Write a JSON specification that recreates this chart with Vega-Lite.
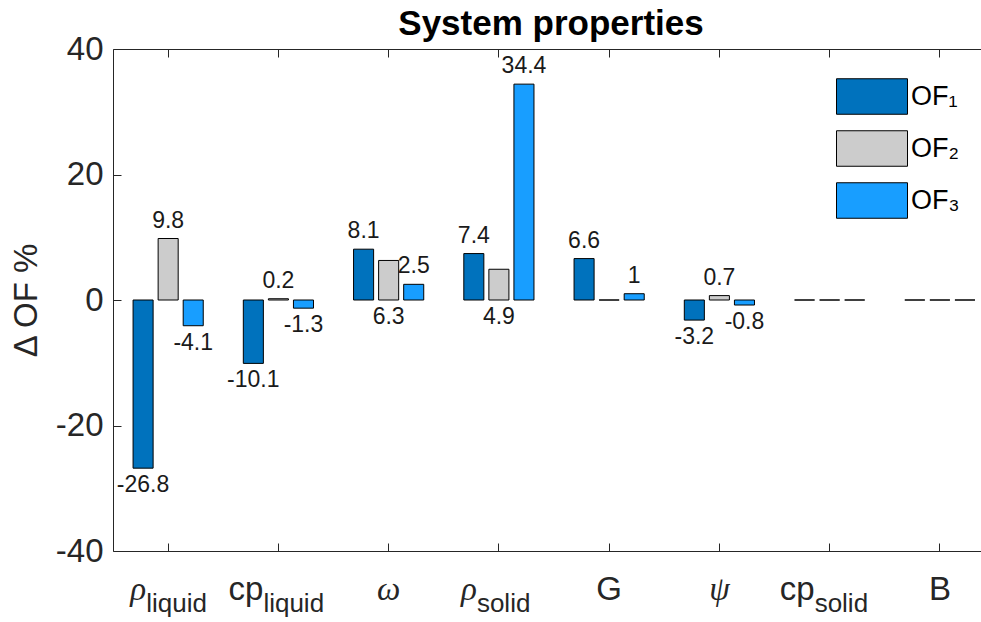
{
  "$schema": "https://vega.github.io/schema/vega-lite/v6.json",
  "width": 868,
  "height": 502,
  "autosize": {"type": "none"},
  "padding": {"left": 113, "top": 49, "right": 0, "bottom": 71},
  "background": "white",
  "config": {"view": {"stroke": null}, "font": "Liberation Sans"},
  "title": {"text": "System properties", "fontSize": 35, "fontWeight": "bold", "font": "Liberation Sans", "color": "#000000", "anchor": "middle", "frame": "group", "baseline": "alphabetic", "offset": -37, "dx": 4},
  "datasets": {
    "bars": [
      {"prop": "rho_liquid", "series": "OF1", "value": -26.8},
      {"prop": "rho_liquid", "series": "OF2", "value": 9.8},
      {"prop": "rho_liquid", "series": "OF3", "value": -4.1},
      {"prop": "cp_liquid", "series": "OF1", "value": -10.1},
      {"prop": "cp_liquid", "series": "OF2", "value": 0.2},
      {"prop": "cp_liquid", "series": "OF3", "value": -1.3},
      {"prop": "omega", "series": "OF1", "value": 8.1},
      {"prop": "omega", "series": "OF2", "value": 6.3},
      {"prop": "omega", "series": "OF3", "value": 2.5},
      {"prop": "rho_solid", "series": "OF1", "value": 7.4},
      {"prop": "rho_solid", "series": "OF2", "value": 4.9},
      {"prop": "rho_solid", "series": "OF3", "value": 34.4},
      {"prop": "G", "series": "OF1", "value": 6.6},
      {"prop": "G", "series": "OF2", "value": 0},
      {"prop": "G", "series": "OF3", "value": 1},
      {"prop": "psi", "series": "OF1", "value": -3.2},
      {"prop": "psi", "series": "OF2", "value": 0.7},
      {"prop": "psi", "series": "OF3", "value": -0.8},
      {"prop": "cp_solid", "series": "OF1", "value": 0},
      {"prop": "cp_solid", "series": "OF2", "value": 0},
      {"prop": "cp_solid", "series": "OF3", "value": 0},
      {"prop": "B", "series": "OF1", "value": 0},
      {"prop": "B", "series": "OF2", "value": 0},
      {"prop": "B", "series": "OF3", "value": 0}
    ],
    "xlab": [
      {"prop": "rho_liquid", "main": "ρ", "sub": "liquid"},
      {"prop": "cp_liquid", "main": "cp", "sub": "liquid"},
      {"prop": "omega", "main": "ω", "sub": ""},
      {"prop": "rho_solid", "main": "ρ", "sub": "solid"},
      {"prop": "G", "main": "G", "sub": ""},
      {"prop": "psi", "main": "ψ", "sub": ""},
      {"prop": "cp_solid", "main": "cp", "sub": "solid"},
      {"prop": "B", "main": "B", "sub": ""}
    ]
  },
  "resolve": {"axis": {"x": "independent"}},
  "layer": [
    {
      "data": {"name": "bars"},
      "mark": {"type": "bar", "stroke": "#000000", "strokeWidth": 1},
      "encoding": {
        "x": {
          "field": "prop", "type": "nominal",
          "scale": {"type": "band", "domain": ["rho_liquid", "cp_liquid", "omega", "rho_solid", "G", "psi", "cp_solid", "B"], "paddingInner": 0.318, "paddingOuter": 0.0956, "align": 0.833},
          "axis": {"orient": "bottom", "labels": false, "title": null, "tickSize": -8, "tickColor": "#262626", "domainColor": "#262626", "grid": false}
        },
        "xOffset": {"field": "series", "type": "nominal", "scale": {"domain": ["OF1", "OF2", "OF3"], "paddingInner": 0.2, "paddingOuter": 0.1}},
        "y": {
          "field": "value", "type": "quantitative",
          "scale": {"domain": [-40, 40], "nice": false},
          "axis": {"values": [-40, -20, 0, 20, 40], "tickSize": -8, "labelPadding": 18, "labelFontSize": 33, "labelColor": "#262626", "labelExpr": "'' + datum.value", "title": "Δ OF %", "titleFontSize": 33, "titleFontWeight": "normal", "titleColor": "#262626", "titlePadding": 12, "grid": false, "domainColor": "#262626", "tickColor": "#262626"}
        },
        "color": {
          "field": "series", "type": "nominal",
          "scale": {"domain": ["OF1", "OF2", "OF3"], "range": ["#0072BD", "#CCCCCC", "#189EFF"]},
          "legend": {"orient": "none", "legendX": 723, "legendY": 29, "title": null, "padding": 0, "symbolType": "M-1,-0.5H1V0.5H-1Z", "symbolSize": 5041, "symbolStrokeColor": "#000000", "symbolStrokeWidth": 1, "symbolOpacity": 1, "clipHeight": 37, "rowPadding": 15, "labelOffset": 3, "labelFontSize": 27, "labelColor": "#000000", "labelFont": "Liberation Sans", "labelExpr": "datum.label == 'OF1' ? 'OF₁' : datum.label == 'OF2' ? 'OF₂' : 'OF₃'"}
        }
      }
    },
    {
      "mark": {"type": "rule", "color": "#262626", "strokeWidth": 1.6},
      "encoding": {"y": {"datum": 0}}
    },
    {
      "data": {"name": "bars"},
      "transform": [{"filter": "datum.value > 0 && !(datum.series == 'OF2' && (datum.prop == 'omega' || datum.prop == 'rho_solid'))"}],
      "mark": {"type": "text", "baseline": "bottom", "dy": -6, "fontSize": 23, "color": "#1a1a1a"},
      "encoding": {
        "x": {"field": "prop", "type": "nominal", "axis": null},
        "xOffset": {"field": "series", "type": "nominal"},
        "y": {"field": "value", "type": "quantitative"},
        "text": {"field": "value", "type": "nominal"}
      }
    },
    {
      "data": {"name": "bars"},
      "transform": [{"filter": "datum.value < 0"}],
      "mark": {"type": "text", "baseline": "top", "dy": 6, "fontSize": 23, "color": "#1a1a1a"},
      "encoding": {
        "x": {"field": "prop", "type": "nominal", "axis": null},
        "xOffset": {"field": "series", "type": "nominal"},
        "y": {"field": "value", "type": "quantitative"},
        "text": {"field": "value", "type": "nominal"}
      }
    },
    {
      "data": {"name": "bars"},
      "transform": [{"filter": "datum.series == 'OF2' && (datum.prop == 'omega' || datum.prop == 'rho_solid')"}],
      "mark": {"type": "text", "baseline": "top", "dy": 6, "fontSize": 23, "color": "#1a1a1a"},
      "encoding": {
        "x": {"field": "prop", "type": "nominal", "axis": null},
        "xOffset": {"field": "series", "type": "nominal"},
        "y": {"datum": 0},
        "text": {"field": "value", "type": "nominal"}
      }
    },
    {
      "data": {"name": "xlab"},
      "transform": [{"filter": "datum.main == 'ρ'"}],
      "mark": {"type": "text", "align": "right", "baseline": "alphabetic", "dx": -22, "dy": 49, "fontSize": 33, "font": "Liberation Serif", "fontStyle": "italic", "color": "#262626"},
      "encoding": {
        "x": {"field": "prop", "type": "nominal", "axis": null},
        "y": {"datum": -40},
        "text": {"field": "main"}
      }
    },
    {
      "data": {"name": "xlab"},
      "transform": [{"filter": "datum.main == 'ρ'"}],
      "mark": {"type": "text", "align": "left", "baseline": "alphabetic", "dx": -22, "dy": 61, "fontSize": 26, "color": "#262626"},
      "encoding": {
        "x": {"field": "prop", "type": "nominal", "axis": null},
        "y": {"datum": -40},
        "text": {"field": "sub"}
      }
    },
    {
      "data": {"name": "xlab"},
      "transform": [{"filter": "datum.main == 'cp'"}],
      "mark": {"type": "text", "align": "right", "baseline": "alphabetic", "dx": -15, "dy": 49, "fontSize": 33, "color": "#262626"},
      "encoding": {
        "x": {"field": "prop", "type": "nominal", "axis": null},
        "y": {"datum": -40},
        "text": {"field": "main"}
      }
    },
    {
      "data": {"name": "xlab"},
      "transform": [{"filter": "datum.main == 'cp'"}],
      "mark": {"type": "text", "align": "left", "baseline": "alphabetic", "dx": -15, "dy": 61, "fontSize": 26, "color": "#262626"},
      "encoding": {
        "x": {"field": "prop", "type": "nominal", "axis": null},
        "y": {"datum": -40},
        "text": {"field": "sub"}
      }
    },
    {
      "data": {"name": "xlab"},
      "transform": [{"filter": "datum.main == 'ω' || datum.main == 'ψ'"}],
      "mark": {"type": "text", "align": "center", "baseline": "alphabetic", "dy": 49, "fontSize": 33, "font": "Liberation Serif", "fontStyle": "italic", "color": "#262626"},
      "encoding": {
        "x": {"field": "prop", "type": "nominal", "axis": null},
        "y": {"datum": -40},
        "text": {"field": "main"}
      }
    },
    {
      "data": {"name": "xlab"},
      "transform": [{"filter": "datum.main == 'G' || datum.main == 'B'"}],
      "mark": {"type": "text", "align": "center", "baseline": "alphabetic", "dy": 49, "fontSize": 33, "color": "#262626"},
      "encoding": {
        "x": {"field": "prop", "type": "nominal", "axis": {"orient": "top", "labels": false, "title": null, "tickSize": -8, "tickColor": "#262626", "domainColor": "#262626", "grid": false}},
        "y": {"datum": -40},
        "text": {"field": "main"}
      }
    }
  ]
}
